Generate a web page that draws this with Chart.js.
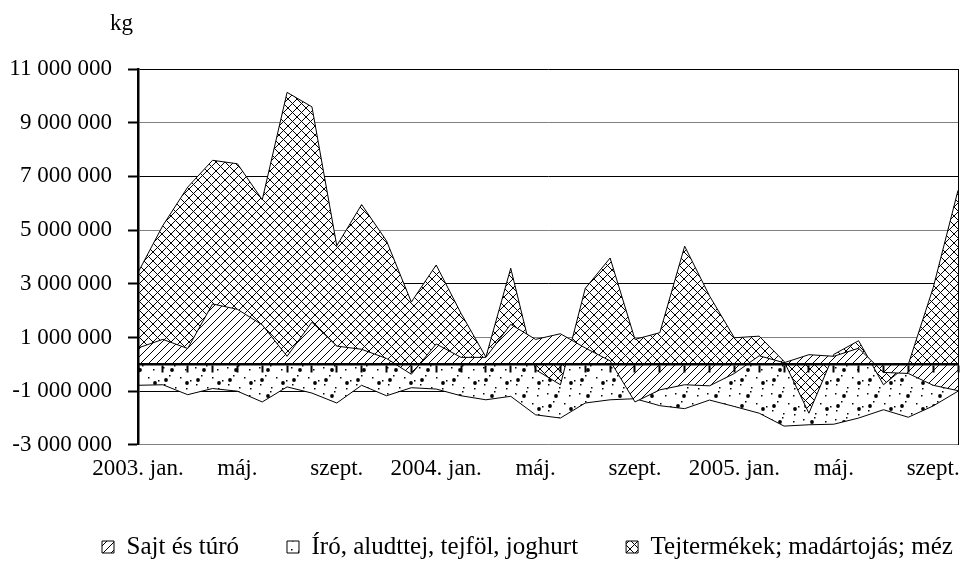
<!DOCTYPE html>
<html>
<head>
<meta charset="utf-8">
<title>Tejtermékek külkereskedelmi egyenlege</title>
<script src="https://cdn.jsdelivr.net/npm/chart.js@4.4.1/dist/chart.umd.min.js"></script>
<style>
  html, body { margin: 0; padding: 0; background: #fff; }
</style>
</head>
<body>
<canvas id="chart" width="964" height="561"></canvas>
<script>
// ── Data (kg, monthly, 2003. jan. – 2005. okt.) ─────────────

const months = [
  '2003. jan.', 'febr.', 'márc.', 'ápr.', 'máj.', 'jún.', 'júl.', 'aug.', 'szept.', 'okt.', 'nov.', 'dec.',
  '2004. jan.', 'febr.', 'márc.', 'ápr.', 'máj.', 'jún.', 'júl.', 'aug.', 'szept.', 'okt.', 'nov.', 'dec.',
  '2005. jan.', 'febr.', 'márc.', 'ápr.', 'máj.', 'jún.', 'júl.', 'aug.', 'szept.', 'okt.'
];

const sajtTuro = [
  610000, 930000, 590000, 2250000, 2050000, 1470000, 300000, 1570000, 680000, 560000, 220000, -370000,
  760000, 260000, 260000, 1490000, 930000, 1140000, 610000, 130000, -1400000, -950000, -760000, -800000,
  -340000, 320000, 60000, 360000, 300000, 600000, -300000, -340000, -780000, -980000
];

const iroJoghurt = [
  -780000, -760000, -1130000, -900000, -1000000, -1400000, -840000, -1070000, -1440000, -780000, -1170000, -870000,
  -920000, -1170000, -1320000, -1190000, -1880000, -2000000, -1440000, -1320000, -1280000, -1540000, -1650000, -1330000,
  -1570000, -1820000, -2300000, -2250000, -2230000, -2000000, -1690000, -1970000, -1550000, -1000000
];

const tejtermekek = [
  3420000, 5170000, 6600000, 7600000, 7470000, 6130000, 10130000, 9590000, 4420000, 5950000, 4600000, 2320000,
  3700000, 1900000, 270000, 3580000, -200000, -760000, 2830000, 3960000, 930000, 1180000, 4400000, 2550000,
  990000, 1050000, 110000, -1820000, 370000, 880000, -760000, 0, 2850000, 6480000
];

const seriesNames = ['Sajt és túró', 'Író, aludttej, tejföl, joghurt', 'Tejtermékek; madártojás; méz'];

const yMin = -3000000;
const yMax = 11000000;
const yStep = 2000000;
const labelEvery = 4;

// ── Styling helpers ─────────────────────────────────────────

const FAMILY = '"Liberation Serif", "Times New Roman", serif';
const LEGEND_X = 102; // left edge of the first legend box
const LEGEND_Y = 547; // vertical centre of the legend row
const canvas = document.getElementById('chart');
const ctx = canvas.getContext('2d');

function makePattern(w, h, draw) {
  const tile = document.createElement('canvas');
  tile.width = w;
  tile.height = h;
  const g = tile.getContext('2d');
  g.fillStyle = '#fff';
  g.fillRect(0, 0, w, h);
  g.strokeStyle = '#000';
  g.fillStyle = '#000';
  g.lineWidth = 1;
  draw(g, w, h);
  return ctx.createPattern(tile, 'repeat');
}

// upward diagonal lines
const diagPattern = makePattern(8, 8, (g, s) => {
  g.beginPath();
  g.moveTo(-1, s + 1); g.lineTo(s + 1, -1);
  g.moveTo(-1, 1); g.lineTo(1, -1);
  g.moveTo(s - 1, s + 1); g.lineTo(s + 1, s - 1);
  g.stroke();
});

// diamond cross-hatch
const crossPattern = makePattern(9, 9, (g, s) => {
  g.beginPath();
  g.moveTo(-1, s + 1); g.lineTo(s + 1, -1);
  g.moveTo(-1, 1); g.lineTo(1, -1);
  g.moveTo(s - 1, s + 1); g.lineTo(s + 1, s - 1);
  g.moveTo(-1, -1); g.lineTo(s + 1, s + 1);
  g.moveTo(s - 1, -1); g.lineTo(s + 1, 1);
  g.moveTo(-1, s - 1); g.lineTo(1, s + 1);
  g.stroke();
});

// scattered dots, two sizes
const dotPattern = makePattern(32, 26, (g) => {
  const small = [[3, 3], [14, 1], [25, 5], [9, 11], [20, 13], [30, 16], [4, 20], [15, 23], [26, 24]];
  const big = [[12, 6], [27, 19], [6, 16]];
  small.forEach(([x, y]) => g.fillRect(x, y, 1.5, 1.5));
  big.forEach(([x, y]) => { g.beginPath(); g.arc(x, y, 1.9, 0, Math.PI * 2); g.fill(); });
});

function formatKg(v) {
  const s = String(Math.abs(v)).replace(/\B(?=(\d{3})+(?!\d))/g, ' ');
  return v < 0 ? '-' + s : s;
}

// ── Plugins ─────────────────────────────────────────────────

const unitLabel = {
  id: 'unitLabel',
  afterDraw(chart) {
    const c = chart.ctx;
    c.save();
    c.font = '23px ' + FAMILY;
    c.fillStyle = '#000';
    c.textAlign = 'right';
    c.textBaseline = 'alphabetic';
    c.fillText('kg', chart.chartArea.left - 5, 30);
    c.restore();
  }
};

// move the legend row to where the original has it
const legendShift = {
  id: 'legendShift',
  afterLayout(chart) {
    const lg = chart.legend;
    if (!lg) return;
    const pad = lg.options.labels.padding;
    const dx = LEGEND_X - (lg.left + pad);
    const dy = LEGEND_Y - (lg.top + pad + lg.options.labels.font.size / 2);
    lg.left += dx;
    lg.right += dx + 60;
    lg.top += dy;
  }
};

// ── Chart ───────────────────────────────────────────────────

new Chart(canvas, {
  type: 'line',
  data: {
    labels: months,
    datasets: [
      { label: seriesNames[0], data: sajtTuro, backgroundColor: diagPattern, order: 0 },
      { label: seriesNames[1], data: iroJoghurt, backgroundColor: dotPattern, order: 2 },
      { label: seriesNames[2], data: tejtermekek, backgroundColor: crossPattern, order: 1 }
    ].map(ds => Object.assign(ds, {
      fill: 'origin',
      borderColor: '#000',
      borderWidth: 1,
      pointRadius: 0,
      tension: 0
    }))
  },
  options: {
    responsive: false,
    animation: false,
    layout: { padding: { top: 69, left: 8, right: 0, bottom: 0 } },
    scales: {
      x: {
        type: 'category',
        offset: false,
        grid: { display: false, drawTicks: false },
        border: { display: false },
        ticks: {
          autoSkip: false,
          maxRotation: 0,
          padding: 10,
          color: '#000',
          font: { family: FAMILY, size: 23 },
          callback: (value, index) => (index % labelEvery === 0 ? months[index] : '')
        },
        // last category has no label, so no room is needed on the right
        afterFit: (scale) => { scale.paddingRight = 0; }
      },
      x2: {
        type: 'category',
        axis: 'x',
        position: { y: 0 },
        offset: false,
        grid: { drawOnChartArea: false, drawTicks: true, tickLength: 7, tickWidth: 2, tickColor: '#000', z: 1 },
        border: { display: true, color: '#000', width: 2.5, z: 1 },
        ticks: { display: false, autoSkip: false }
      },
      y: {
        min: yMin,
        max: yMax,
        border: { color: '#000', width: 2.5, z: 1 },
        grid: {
          color: (c) => (c.index % 2 ? '#000' : '#808080'),
          lineWidth: 1,
          tickColor: '#000',
          tickLength: 10,
          tickWidth: 2
        },
        ticks: {
          stepSize: yStep,
          padding: 16,
          color: '#000',
          font: { family: FAMILY, size: 23 },
          callback: (v) => formatKg(v)
        },
        afterFit: (scale) => { scale.width = 130; }
      },
      y2: {
        position: 'right',
        grid: { drawOnChartArea: false, drawTicks: false },
        border: { display: true, color: '#000', width: 1 },
        ticks: { display: false },
        afterFit: (scale) => { scale.width = 6; }
      }
    },
    plugins: {
      legend: {
        position: 'bottom',
        align: 'start',
        maxHeight: 68.5,
        labels: {
          boxWidth: 12,
          boxHeight: 12,
          padding: 48,
          color: '#000',
          font: { family: FAMILY, size: 25 },
          sort: (a, b) => a.datasetIndex - b.datasetIndex
        }
      },
      tooltip: { enabled: false }
    }
  },
  plugins: [unitLabel, legendShift]
});
</script>
</body>
</html>
